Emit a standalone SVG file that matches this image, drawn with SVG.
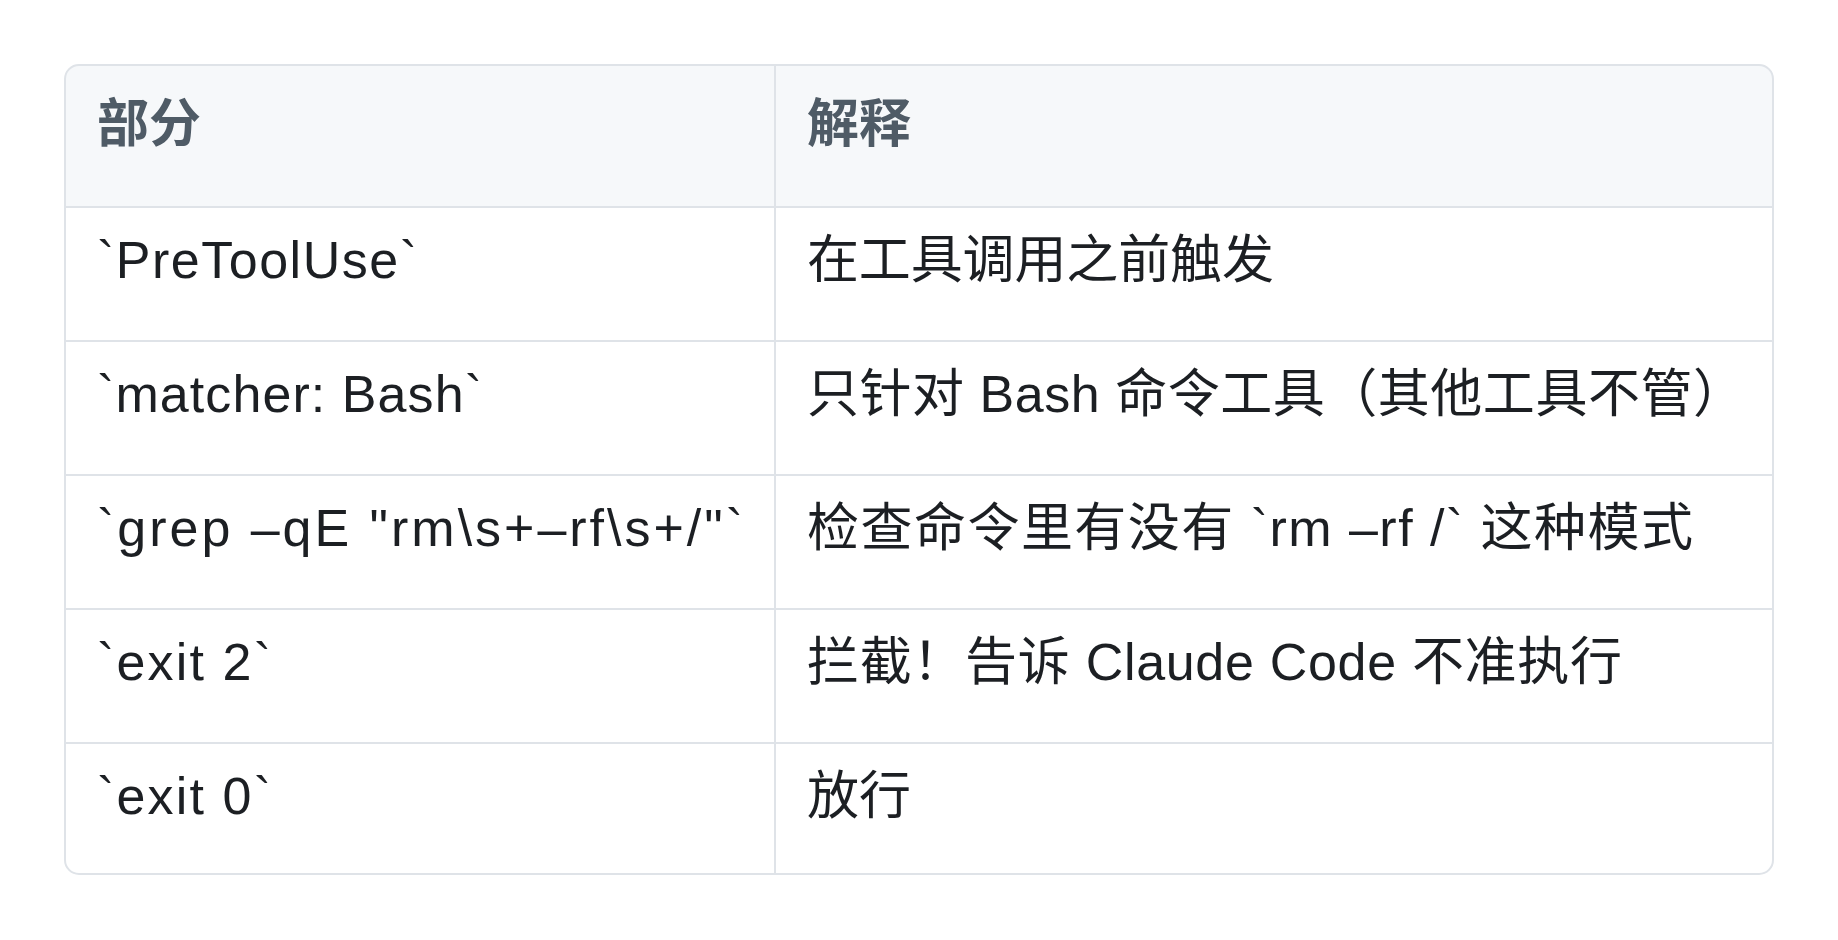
<svg xmlns="http://www.w3.org/2000/svg" width="1838" height="940" viewBox="0 0 1838 940">
<style>
  .hdr { font-family: "Liberation Sans", "Noto Sans CJK SC", sans-serif; font-size: 52px; font-weight: bold; fill: #4f5b66; }
  .cell { font-family: "Liberation Sans", "Noto Sans CJK SC", sans-serif; font-size: 52px; fill: #1c1f23; }
  .grid { stroke: #dfe3e8; stroke-width: 2; fill: none; }
</style>
<rect width="1838" height="940" fill="#ffffff"/>
<g id="table">
  <path d="M79,65 H1759 A14,14 0 0 1 1773,79 V207 H65 V79 A14,14 0 0 1 79,65 Z" fill="#f6f8fa"/>
  <rect x="65" y="65" width="1708" height="809" rx="14" ry="14" class="grid" stroke="#d5dae0"/>
  <line x1="65" y1="207" x2="1773" y2="207" class="grid" stroke="#d5dae0"/>
  <line x1="65" y1="341" x2="1773" y2="341" class="grid"/>
  <line x1="65" y1="475" x2="1773" y2="475" class="grid"/>
  <line x1="65" y1="609" x2="1773" y2="609" class="grid"/>
  <line x1="65" y1="743" x2="1773" y2="743" class="grid"/>
  <line x1="775" y1="65" x2="775" y2="874" class="grid"/>
</g>
<g id="header">
  <text x="97" y="142" class="hdr">部分</text>
  <text x="807" y="142" class="hdr">解释</text>
</g>
<g id="row1">
  <text x="97" y="278" class="cell" textLength="320" lengthAdjust="spacing">`PreToolUse`</text>
  <text x="807" y="278" class="cell" textLength="467" lengthAdjust="spacing">在工具调用之前触发</text>
</g>
<g id="row2">
  <text x="97" y="412" class="cell" textLength="385" lengthAdjust="spacing">`matcher: Bash`</text>
  <text x="807" y="412" class="cell" textLength="938" lengthAdjust="spacing">只针对 Bash 命令工具（其他工具不管）</text>
</g>
<g id="row3">
  <text x="97" y="546" class="cell" textLength="646" lengthAdjust="spacing">`grep –qE "rm\s+–rf\s+/"`</text>
  <text x="807" y="546" class="cell" textLength="886" lengthAdjust="spacing">检查命令里有没有 `rm –rf /` 这种模式</text>
</g>
<g id="row4">
  <text x="97" y="680" class="cell" textLength="174" lengthAdjust="spacing">`exit 2`</text>
  <text x="807" y="680" class="cell" textLength="815" lengthAdjust="spacing">拦截！告诉 Claude Code 不准执行</text>
</g>
<g id="row5">
  <text x="97" y="814" class="cell" textLength="174" lengthAdjust="spacing">`exit 0`</text>
  <text x="807" y="814" class="cell">放行</text>
</g>
</svg>
